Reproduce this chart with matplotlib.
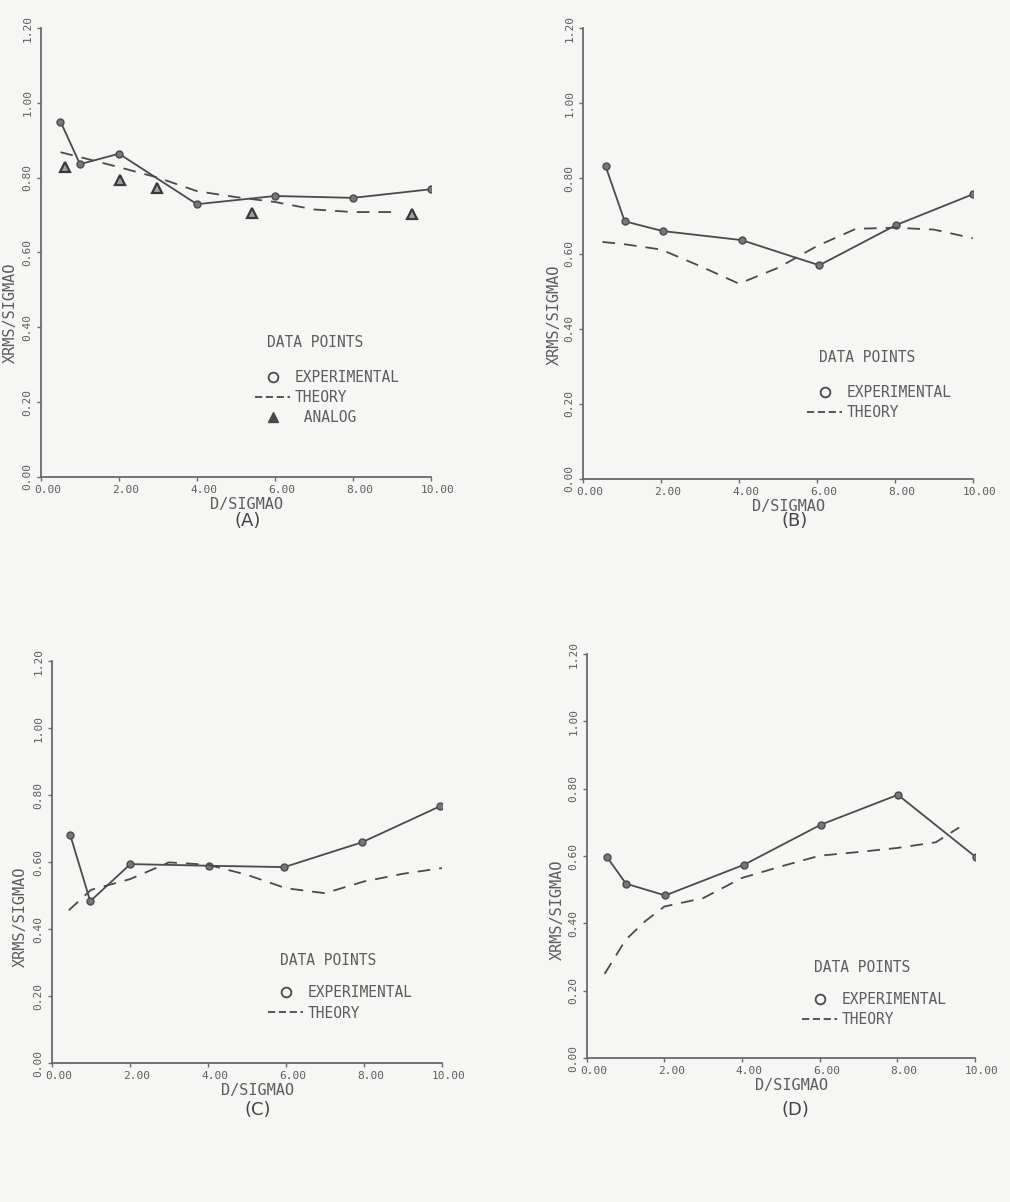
import matplotlib
matplotlib.use("Agg")
import matplotlib.pyplot as plt
import matplotlib.transforms as mtrans
from matplotlib.lines import Line2D

# ~  Data

# (A)
a_exp_x = [0.5, 1.0, 2.0, 4.0, 6.0, 8.0, 10.0]
a_exp_y = [0.95, 0.836, 0.864, 0.729, 0.751, 0.746, 0.769]
a_th_x = [0.5, 1.0, 2.0, 3.0, 4.0, 5.0, 6.0, 7.0, 8.0, 9.0]
a_th_y = [0.868, 0.855, 0.828, 0.800, 0.764, 0.748, 0.735, 0.715, 0.708, 0.708]
a_an_x = [0.62, 2.02, 2.97, 5.41, 9.51]
a_an_y = [0.828, 0.795, 0.773, 0.706, 0.702]

# (B)
b_exp_x = [0.58, 1.07, 2.05, 4.07, 6.06, 8.03, 10.0]
b_exp_y = [0.833, 0.686, 0.660, 0.636, 0.569, 0.676, 0.758]
b_th_x = [0.5, 1.0, 2.0, 3.0, 4.0, 5.0, 6.0, 7.0, 8.0, 9.0, 10.0]
b_th_y = [0.631, 0.626, 0.611, 0.567, 0.520, 0.562, 0.620, 0.666, 0.669, 0.664, 0.641]

# (C)
c_exp_x = [0.47, 0.98, 2.01, 4.02, 5.96, 7.95, 9.94]
c_exp_y = [0.680, 0.483, 0.594, 0.589, 0.585, 0.659, 0.766]
c_th_x = [0.43, 1.0, 2.0, 3.0, 4.0, 5.0, 6.0, 7.0, 8.0, 9.0, 10.0]
c_th_y = [0.456, 0.517, 0.549, 0.599, 0.592, 0.562, 0.522, 0.507, 0.542, 0.565, 0.582]

# (D)
d_exp_x = [0.52, 1.01, 2.02, 4.05, 6.03, 8.02, 10.03]
d_exp_y = [0.597, 0.518, 0.483, 0.574, 0.693, 0.782, 0.597]
d_th_x = [0.46, 1.0, 1.5, 2.0, 3.0, 4.0, 5.0, 6.0, 7.0, 8.0, 9.0, 9.6]
d_th_y = [0.250, 0.351, 0.406, 0.450, 0.475, 0.535, 0.569, 0.601, 0.612, 0.624, 0.641, 0.685]

x_ticks = [0, 2, 4, 6, 8, 10]
x_tick_labels = ["0.00", "2.00", "4.00", "6.00", "8.00", "10.00"]
y_ticks = [0.0, 0.2, 0.4, 0.6, 0.8, 1.0, 1.2]
y_tick_labels = ["0.00", "0.20", "0.40", "0.60", "0.80", "1.00", "1.20"]

# -------------------------------------------------------------------------------- #

ink = "#4a4a4a"
txt = "#5c5c5c"
mono = "DejaVu Sans Mono"

fig = plt.figure(figsize=(10.10, 12.02), dpi=100, facecolor="#f6f6f4")


def setup_axes(rect):
    ax = fig.add_axes(rect)
    ax.set_facecolor("none")
    ax.set_xlim(0, 10)
    ax.set_ylim(0, 1.2)
    for side in ["top", "right"]:
        ax.spines[side].set_visible(False)
    for side in ["left", "bottom"]:
        ax.spines[side].set_color("#6a6a6a")
        ax.spines[side].set_linewidth(1.3)
    ax.set_xticks(x_ticks)
    ax.set_xticklabels(x_tick_labels, fontfamily=mono, fontsize=8, color=txt)
    ax.set_yticks(y_ticks)
    ax.set_yticklabels(y_tick_labels, fontfamily=mono, fontsize=8, color=txt,
                       rotation=90, va="center")
    ax.tick_params(length=3, width=1, color="#6a6a6a", pad=3)
    shift = mtrans.ScaledTranslation(7 / 100, 0, fig.dpi_scale_trans)
    for lab in ax.get_xticklabels():
        lab.set_transform(lab.get_transform() + shift)
    ax.set_xlabel("D/SIGMAO", fontfamily=mono, fontsize=11, color=txt)
    ax.set_ylabel("XRMS/SIGMAO", fontfamily=mono, fontsize=11, color=txt)
    return ax


def draw_panel(ax, ex, ey, tx, ty, an=None):
    ax.plot(ex, ey, "-", color=ink, lw=1.3, marker="o", ms=5,
            mfc="#777777", mec=ink)
    ax.plot(tx, ty, color=ink, lw=1.3, dashes=(7, 5))
    if an is not None:
        ax.plot(an[0], an[1], ls="none", marker="^", ms=7.5, mfc="#a0a0a0",
                mec="#3a3a3a", mew=1.6)


def add_legend(ax, x, y, analog=False):
    ax.text(x, y, "DATA POINTS", transform=ax.transAxes, fontfamily=mono,
            fontsize=10.5, color=txt, va="center", ha="left")
    handles = [
        Line2D([], [], ls="none", marker="o", ms=7, mfc="none", mec=ink, mew=1.3),
        Line2D([], [], color=ink, lw=1.3, dashes=(4, 2)),
    ]
    labels = ["EXPERIMENTAL", "THEORY"]
    if analog:
        handles.append(Line2D([], [], ls="none", marker="^", ms=7, color=ink))
        labels.append(" ANALOG")
    leg = ax.legend(handles, labels, loc="upper left",
                    bbox_to_anchor=(x - 0.03, y - 0.062), frameon=False,
                    prop={"family": mono, "size": 10.5}, labelcolor=txt,
                    handlelength=2.4, handletextpad=0.3, labelspacing=0.35,
                    borderpad=0, borderaxespad=0)
    return leg


# -------------------------------------------------------------------------------- #

ax_a = setup_axes([0.0406, 0.6032, 0.386, 0.3735])
draw_panel(ax_a, a_exp_x, a_exp_y, a_th_x, a_th_y, an=(a_an_x, a_an_y))
add_legend(ax_a, 0.58, 0.30, analog=True)

ax_b = setup_axes([0.5772, 0.6015, 0.386, 0.375])
draw_panel(ax_b, b_exp_x, b_exp_y, b_th_x, b_th_y)
add_legend(ax_b, 0.605, 0.27)

ax_c = setup_axes([0.0515, 0.1156, 0.386, 0.3344])
draw_panel(ax_c, c_exp_x, c_exp_y, c_th_x, c_th_y)
add_legend(ax_c, 0.585, 0.255)

ax_d = setup_axes([0.581, 0.1198, 0.384, 0.336])
draw_panel(ax_d, d_exp_x, d_exp_y, d_th_x, d_th_y)
add_legend(ax_d, 0.585, 0.225)

for ax, lx, ly, by in [(ax_a, -0.059, 0.365, -0.045), (ax_b, -0.054, 0.364, -0.045),
                       (ax_c, -0.062, 0.363, -0.050), (ax_d, -0.057, 0.366, -0.050)]:
    ax.yaxis.set_label_coords(lx, ly)
    ax.xaxis.set_label_coords(0.527, by)

for label, px, py in [("(A)", 248, 521), ("(B)", 795, 521),
                      ("(C)", 258, 1110), ("(D)", 795, 1110)]:
    fig.text(px / 1010, 1 - py / 1202, label, fontsize=13, color="#444444",
             ha="center", va="center")

fig.savefig("out.png", dpi=100, facecolor=fig.get_facecolor())
